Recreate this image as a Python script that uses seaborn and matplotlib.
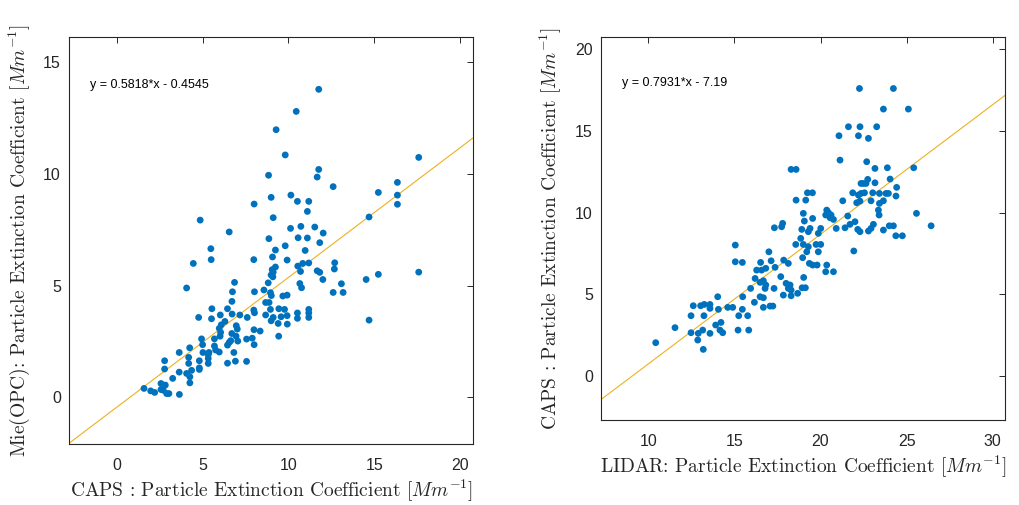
import numpy as np
import pandas as pd
import seaborn as sns
import matplotlib
matplotlib.use("Agg")
import matplotlib.pyplot as plt

# --- left panel: CAPS (x) vs Mie(OPC) (y)
caps_x = [11.76, 10.45, 9.28, 9.81, 17.58, 11.76, 8.84, 11.67, 12.60, 16.34,
          15.23, 16.34, 16.34, 8.99, 10.14, 10.52, 11.18, 11.10, 8.00, 9.11,
          14.69, 4.86, 6.55, 10.12, 10.72, 11.53, 12.02, 8.86, 10.56, 11.10,
          11.82, 9.81, 9.24, 10.97, 5.48, 5.50, 7.98, 9.92, 9.07, 4.46,
          12.69, 12.67, 11.18, 10.54, 10.83, 10.70, 9.24, 9.05, 11.67, 11.82,
          9.09, 9.11, 12.00, 14.52, 15.23, 17.58, 13.08, 12.60, 13.18, 10.66,
          10.76, 8.82, 8.95, 8.57, 6.86, 6.74, 8.02, 4.07, 9.92, 9.67,
          6.71, 8.67, 8.87, 5.54, 6.45, 7.98, 8.95, 9.44, 9.77, 10.52,
          11.18, 11.18, 11.18, 10.52, 9.92, 9.57, 9.11, 8.67, 6.72, 7.17,
          7.60, 8.02, 6.03, 5.52, 4.77, 8.99, 9.40, 9.93, 14.69, 6.30,
          6.09, 5.97, 6.96, 7.02, 7.99, 8.35, 9.43, 4.94, 5.69, 6.02,
          6.95, 7.05, 6.64, 7.56, 7.89, 8.00, 6.45, 5.69, 5.76, 4.25,
          3.64, 5.02, 5.37, 5.97, 6.82, 5.33, 5.33, 4.81, 4.81, 4.81,
          4.19, 4.19, 4.36, 4.07, 4.26, 4.26, 3.64, 2.79, 2.79, 3.26,
          6.45, 6.91, 7.56, 1.59, 1.98, 2.21, 2.58, 2.58, 2.83, 2.71,
          2.91, 3.04, 3.65, 8.99, 5.33, 5.00, 6.70, 9.00, 6.55, 6.05]
opc_y = [13.79, 12.80, 11.98, 10.85, 10.74, 10.20, 9.94, 9.86, 9.43, 9.62,
         9.17, 9.05, 8.64, 8.95, 9.05, 8.77, 8.77, 8.32, 8.65, 8.04,
         8.07, 7.93, 7.40, 7.56, 7.65, 7.62, 7.35, 7.10, 7.14, 7.13,
         6.92, 6.78, 6.59, 6.57, 6.65, 6.16, 6.16, 6.14, 6.28, 5.99,
         6.02, 5.74, 6.01, 5.87, 5.99, 5.63, 5.83, 5.71, 5.66, 5.59,
         5.39, 5.60, 5.27, 5.27, 5.50, 5.60, 5.08, 4.69, 4.69, 5.09,
         4.90, 5.12, 4.68, 4.80, 5.14, 4.72, 4.72, 4.89, 4.57, 4.53,
         4.29, 4.24, 4.24, 3.96, 3.96, 3.90, 3.93, 3.96, 3.93, 3.77,
         3.93, 3.77, 3.57, 3.53, 3.65, 3.60, 3.57, 3.68, 3.72, 3.68,
         3.57, 3.78, 3.68, 3.51, 3.57, 3.42, 3.30, 3.27, 3.45, 3.39,
         3.24, 3.08, 3.20, 3.05, 3.02, 2.96, 2.73, 2.61, 2.61, 2.73,
         2.73, 2.51, 2.53, 2.60, 2.64, 2.35, 2.33, 2.29, 2.11, 2.21,
         2.00, 2.00, 2.00, 2.02, 2.00, 1.73, 1.51, 1.63, 1.31, 1.24,
         1.78, 1.51, 1.20, 1.06, 0.91, 0.64, 1.12, 1.63, 1.26, 0.84,
         1.52, 1.61, 1.60, 0.39, 0.28, 0.21, 0.61, 0.34, 0.54, 0.31,
         0.16, 0.16, 0.12, 5.47, 1.90, 2.35, 2.85, 4.55, 2.45, 2.90]

# --- right panel: LIDAR (x) vs CAPS (y)
lidar_x = [10.43, 11.55, 12.48, 12.48, 12.61, 13.04, 13.25, 13.58, 13.58, 13.23,
           13.16, 12.90, 12.87, 13.19, 13.58, 14.03, 14.07, 13.91, 14.22, 14.16,
           14.32, 14.61, 14.90, 15.05, 15.05, 15.46, 15.25, 15.21, 15.48, 15.46,
           15.77, 15.83, 15.94, 16.16, 16.20, 16.29, 16.52, 16.58, 16.82, 16.49,
           16.68, 16.82, 16.78, 16.49, 16.68, 16.68, 17.00, 17.13, 17.36, 17.30,
           17.07, 17.23, 17.32, 17.74, 17.80, 17.86, 18.13, 17.69, 18.00, 18.23,
           18.13, 18.29, 17.84, 18.29, 18.67, 18.93, 19.12, 19.02, 18.96, 18.85,
           18.91, 19.06, 19.00, 18.56, 19.00, 19.29, 19.20, 19.29, 19.39, 19.54,
           19.35, 19.54, 19.80, 19.87, 19.74, 20.01, 19.87, 20.01, 18.29, 18.58,
           18.58, 19.14, 19.24, 19.53, 20.36, 20.30, 20.46, 20.61, 20.56, 20.75,
           20.91, 20.36, 20.30, 20.75, 21.07, 21.13, 21.62, 22.26, 22.29, 22.20,
           22.78, 21.29, 21.58, 21.42, 21.71, 21.87, 21.93, 22.00, 22.10, 22.16,
           22.29, 22.35, 22.35, 22.20, 22.29, 22.49, 22.64, 22.74, 22.55, 22.68,
           23.16, 23.16, 23.03, 22.93, 22.78, 22.93, 23.07, 23.26, 23.65, 24.23,
           25.10, 23.88, 24.04, 23.42, 23.42, 23.36, 23.40, 23.65, 23.80, 23.94,
           24.42, 24.38, 23.99, 24.23, 23.65, 24.37, 24.75, 25.41, 25.57, 26.42]
caps_y = [2.04, 2.96, 2.65, 3.69, 4.30, 4.30, 4.38, 4.38, 4.14, 3.69,
          2.81, 2.61, 2.20, 1.63, 2.61, 4.85, 4.08, 3.12, 3.28, 2.81,
          2.65, 4.20, 4.20, 8.01, 6.99, 6.95, 3.69, 2.81, 4.85, 4.08,
          3.69, 2.81, 5.36, 4.51, 5.97, 6.48, 6.95, 6.48, 6.59, 5.73,
          5.83, 5.57, 5.36, 4.85, 4.79, 4.20, 7.60, 7.05, 6.65, 5.36,
          4.28, 4.28, 9.07, 9.13, 9.34, 7.09, 6.89, 6.08, 5.67, 5.57,
          5.36, 5.26, 4.95, 4.91, 5.06, 5.40, 5.40, 6.03, 7.24, 8.42,
          8.97, 9.48, 9.95, 8.05, 8.05, 7.91, 7.60, 8.83, 9.03, 9.64,
          6.89, 6.79, 6.79, 7.60, 8.05, 8.05, 8.73, 9.03, 12.64, 12.64,
          10.76, 10.76, 11.21, 11.21, 10.15, 9.85, 9.99, 9.85, 9.68, 9.58,
          9.03, 6.79, 6.38, 6.38, 14.70, 13.21, 15.25, 17.59, 15.25, 14.70,
          14.54, 10.72, 9.79, 9.07, 9.28, 11.21, 7.65, 9.44, 10.60, 8.97,
          8.83, 11.78, 11.17, 11.07, 10.70, 11.78, 11.78, 12.03, 11.21, 13.11,
          12.70, 11.82, 11.21, 10.72, 8.87, 9.03, 9.28, 15.25, 16.33, 17.59,
          16.33, 12.74, 12.05, 11.17, 10.56, 10.15, 9.85, 10.72, 11.17, 11.17,
          11.54, 11.01, 9.19, 9.19, 8.93, 8.58, 8.58, 12.74, 9.95, 9.19]

# linear fits printed in the panels
fit_left = (0.5818, -0.4545)
fit_right = (0.7931, -7.19)
eq_left = "y = 0.5818*x - 0.4545"
eq_right = "y = 0.7931*x - 7.19"

df_left = pd.DataFrame({"x": caps_x, "y": opc_y})
df_right = pd.DataFrame({"x": lidar_x, "y": caps_y})

sns.set_theme(style="white")
plt.rcParams["font.family"] = ["Liberation Sans", "DejaVu Sans"]
plt.rcParams["mathtext.fontset"] = "cm"

BLUE = "#0072BD"
ORANGE = "#EDB120"

fig = plt.figure(figsize=(10.2, 5.05), dpi=100)
ax1 = fig.add_axes([0.0679, 0.1208, 0.3955, 0.8053])
ax2 = fig.add_axes([0.5895, 0.1683, 0.3958, 0.7578])

panels = [
    (ax1, df_left, fit_left, eq_left, (-2.76, 20.72), (-2.1, 16.12),
     [0, 5, 10, 15, 20], [0, 5, 10, 15], (-1.55, 14.0),
     r"CAPS : Particle Extinction Coefficient $[Mm^{-1}]$",
     r"Mie(OPC): Particle Extinction Coefficient $[Mm^{-1}]$"),
    (ax2, df_right, fit_right, eq_right, (7.27, 30.71), (-2.69, 20.72),
     [10, 15, 20, 25, 30], [0, 5, 10, 15, 20], (8.46, 17.9),
     r"LIDAR: Particle Extinction Coefficient $[Mm^{-1}]$",
     r"CAPS : Particle Extinction Coefficient $[Mm^{-1}]$"),
]

for ax, d, fit, eq, xl, yl, xt, yt, txt_pos, xlab, ylab in panels:
    sns.scatterplot(data=d, x="x", y="y", ax=ax, color=BLUE, s=24,
                    edgecolor="none", linewidth=0, zorder=3)
    ax.axline((0, fit[1]), slope=fit[0], color=ORANGE, lw=0.8, zorder=2)
    ax.set_xlim(xl)
    ax.set_ylim(yl)
    ax.set_xticks(xt)
    ax.set_yticks(yt)
    ax.text(txt_pos[0], txt_pos[1], eq, fontsize=9, va="center",
            ha="left", color="black")
    for sp in ax.spines.values():
        sp.set_color("#262626")
        sp.set_linewidth(0.8)
    ax.tick_params(direction="in", length=4, width=0.7, top=True, right=True,
                   colors="#262626", labelsize=11.5)
    ax.tick_params(axis="x", pad=10)
    ax.tick_params(axis="y", pad=6)
    ax.set_xlabel(xlab, fontsize=14, family="cmr10", color="#262626", labelpad=4)
    ax.set_ylabel(ylab, fontsize=14, family="cmr10", color="#262626", labelpad=8)

fig.savefig("out.png", dpi=100)
